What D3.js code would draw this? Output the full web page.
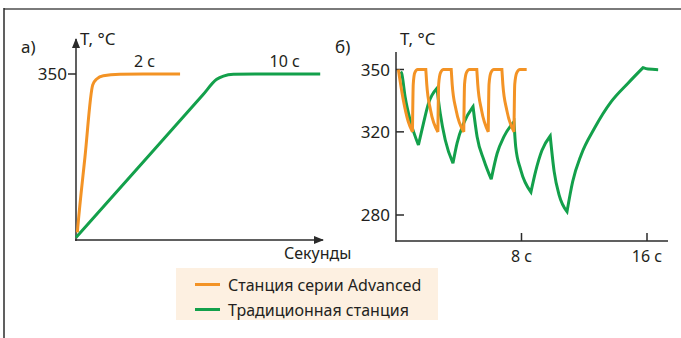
<!DOCTYPE html>
<html>
<head>
<meta charset="utf-8">
<script src="https://cdn.jsdelivr.net/npm/d3@7"></script>
<style>
  body { margin: 0; background: #fff; }
  text { font-family: "Noto Sans", sans-serif; fill: #231f20; }
</style>
</head>
<body>
<svg id="chart" width="681" height="338"></svg>
<script>
// ---- data ----
const seriesNames = ["Станция серии Advanced", "Традиционная станция"];
const yLabel = "T, °C";
const xLabel = "Секунды";
const panelLabels = ["а)", "б)"];

// panel a: heat-up, [seconds, °C]
const aAdvanced = [[0.09, 40], [0.12, 50], [0.6, 187], [1.12, 328.5], [1.39, 340.2], [1.83, 346.7], [2.95, 349.4], [4.5, 350], [6.98, 350]];
const aTraditional = [[0, 30], [5, 194], [8.5, 308.8], [9.44, 339.6], [9.89, 346], [10.56, 349.4], [12, 350], [16.38, 350]];
const aYTicks = [350];
const aNotes = [[4.6, "2 с"], [14.0, "10 с"]];

// panel b: recovery under load, [seconds, °C]
const bAdvanced = [
  [0.15, 350], [0.45, 336], [0.78, 325], [1.05, 320], [1.1, 343], [1.2, 348.5], [1.38, 350], [1.9, 350],
  [1.96, 343], [2.2, 330.5], [2.67, 320], [2.72, 343], [2.84, 348.5], [3.03, 350], [3.52, 350],
  [3.58, 343], [3.83, 330.5], [4.32, 320], [4.37, 343], [4.49, 348.5], [4.68, 350], [5.15, 350],
  [5.21, 343], [5.45, 330.5], [5.88, 320], [5.93, 343], [6.05, 348.5], [6.24, 350], [6.75, 350],
  [6.81, 343], [7.06, 330.5], [7.52, 320], [7.57, 343], [7.7, 348.5], [7.9, 350], [8.33, 350]
];
const bTraditional = [
  [0.3, 349], [0.36, 348.2], [0.58, 336.9], [0.9, 325.7], [1.43, 313.7],
  [1.75, 324.1], [2.07, 333.7], [2.61, 341],
  [2.82, 328.9], [3.14, 316.1], [3.63, 304.9],
  [3.89, 314.5], [4.31, 324.1], [4.91, 332.1],
  [5.17, 317.7], [5.6, 306.5], [6.07, 297.2],
  [6.45, 309.7], [6.88, 317.7], [7.52, 324.9],
  [7.63, 312.9], [7.95, 301.7], [8.6, 291],
  [8.9, 301], [9.3, 311], [9.83, 318],
  [10.08, 301], [10.4, 289.6], [10.9, 281.6],
  [11.26, 296], [11.8, 308.9], [12.65, 321.7], [13.72, 334.5], [14.79, 343.4], [15.75, 350.9],
  [16.07, 350.2], [16.71, 349.9]
];
const bYTicks = [280, 320, 350];
const bXTicks = [8, 16];
const bXTickLabels = ["8 с", "16 с"];

// ---- setup ----
const colors = { adv: "#f39325", trad: "#13a04b", axis: "#2b2b2b" };
const svg = d3.select("#chart");

// frame
svg.append("line").attr("x1", 4).attr("x2", 681).attr("y1", 9).attr("y2", 9)
  .attr("stroke", "#7a7a7a").attr("stroke-width", 2);
svg.append("line").attr("x1", 4).attr("x2", 4).attr("y1", 8).attr("y2", 338)
  .attr("stroke", "#2b2b2b").attr("stroke-width", 1.5);

const defs = svg.append("defs");
defs.append("marker").attr("id", "arrow")
  .attr("viewBox", "0 0 10 8").attr("refX", 9).attr("refY", 4)
  .attr("markerWidth", 10).attr("markerHeight", 8).attr("markerUnits", "userSpaceOnUse")
  .attr("orient", "auto")
  .append("path").attr("d", "M0,0 L10,4 L0,8 Z").attr("fill", colors.axis);

// smooth inside each rise / fall, sharp corner at the turning points
function curvePath(data, x, y) {
  const line = d3.line().x(d => x(d[0])).y(d => y(d[1])).curve(d3.curveMonotoneX);
  const segs = [];
  let cur = [data[0]];
  for (let i = 1; i < data.length; i++) {
    cur.push(data[i]);
    if (i < data.length - 1) {
      const d1 = data[i][1] - data[i - 1][1], d2 = data[i + 1][1] - data[i][1];
      if ((d1 >= 0 && d2 < 0) || (d1 < 0 && d2 > 0)) {
        segs.push(cur);
        cur = [data[i]];
      }
    }
  }
  segs.push(cur);
  return segs.map((s, k) => k ? line(s).replace(/^M[^A-Za-z]*/, "") : line(s)).join("");
}

function drawLine(g, data, x, y, color) {
  g.append("path").attr("d", curvePath(data, x, y))
    .attr("fill", "none").attr("stroke", color).attr("stroke-width", 3)
    .attr("stroke-linejoin", "miter").attr("stroke-miterlimit", 3);
}

// ---- panel a ----
const ax = d3.scaleLinear().domain([0, 16.5]).range([76, 322]);
const ay = d3.scaleLinear().domain([25, 350]).range([240, 74]);
const ga = svg.append("g");

ga.append("line").attr("x1", 76).attr("x2", 76).attr("y1", 241).attr("y2", 39)
  .attr("stroke", colors.axis).attr("stroke-width", 1.5).attr("marker-end", "url(#arrow)");
ga.append("line").attr("x1", 75).attr("x2", 323).attr("y1", 240).attr("y2", 240)
  .attr("stroke", colors.axis).attr("stroke-width", 1.5).attr("marker-end", "url(#arrow)");

aYTicks.forEach(v => {
  ga.append("line").attr("x1", 68).attr("x2", 76).attr("y1", ay(v)).attr("y2", ay(v))
    .attr("stroke", colors.axis).attr("stroke-width", 1.5);
  ga.append("text").attr("x", 67).attr("y", ay(v) + 6).attr("text-anchor", "end")
    .attr("font-size", 17).text(v);
});

drawLine(ga, aTraditional, ax, ay, colors.trad);
drawLine(ga, aAdvanced, ax, ay, colors.adv);

aNotes.forEach(n => {
  ga.append("text").attr("x", ax(n[0])).attr("y", 67).attr("text-anchor", "middle")
    .attr("font-size", 16).text(n[1]);
});
ga.append("text").attr("x", 21).attr("y", 53).attr("font-size", 17).text(panelLabels[0]);
ga.append("text").attr("x", 80).attr("y", 45).attr("font-size", 17).text(yLabel);
ga.append("text").attr("x", 284).attr("y", 259).attr("font-size", 16).text(xLabel);

// ---- panel b ----
const bx = d3.scaleLinear().domain([0, 16]).range([396, 647]);
const by = d3.scaleLinear().domain([280, 350]).range([215, 69.5]);
const gb = svg.append("g");

gb.append("line").attr("x1", 396).attr("x2", 396).attr("y1", 52).attr("y2", 241.75)
  .attr("stroke", colors.axis).attr("stroke-width", 1.5);
gb.append("line").attr("x1", 395.25).attr("x2", 668).attr("y1", 241).attr("y2", 241)
  .attr("stroke", colors.axis).attr("stroke-width", 1.5);

bYTicks.forEach(v => {
  gb.append("line").attr("x1", 396).attr("x2", 404).attr("y1", by(v)).attr("y2", by(v))
    .attr("stroke", colors.axis).attr("stroke-width", 1.5);
  gb.append("text").attr("x", 390).attr("y", by(v) + 6).attr("text-anchor", "end")
    .attr("font-size", 17).text(v);
});
bXTicks.forEach((v, i) => {
  gb.append("line").attr("x1", bx(v)).attr("x2", bx(v)).attr("y1", 233).attr("y2", 241)
    .attr("stroke", colors.axis).attr("stroke-width", 1.5);
  gb.append("text").attr("x", bx(v)).attr("y", 262).attr("text-anchor", "middle")
    .attr("font-size", 16).text(bXTickLabels[i]);
});

drawLine(gb, bTraditional, bx, by, colors.trad);
drawLine(gb, bAdvanced, bx, by, colors.adv);

gb.append("text").attr("x", 335).attr("y", 53).attr("font-size", 17).text(panelLabels[1]);
gb.append("text").attr("x", 400).attr("y", 45).attr("font-size", 17).text(yLabel);

// ---- legend ----
const lg = svg.append("g");
lg.append("rect").attr("x", 176).attr("y", 268).attr("width", 262).attr("height", 52)
  .attr("fill", "#fdf0e1");
[colors.adv, colors.trad].forEach((c, i) => {
  const yy = 284.5 + i * 25;
  lg.append("line").attr("x1", 195).attr("x2", 220).attr("y1", yy).attr("y2", yy)
    .attr("stroke", c).attr("stroke-width", 3);
  lg.append("text").attr("x", 228).attr("y", yy + 6).attr("font-size", 16).text(seriesNames[i]);
});
</script>
</body>
</html>
